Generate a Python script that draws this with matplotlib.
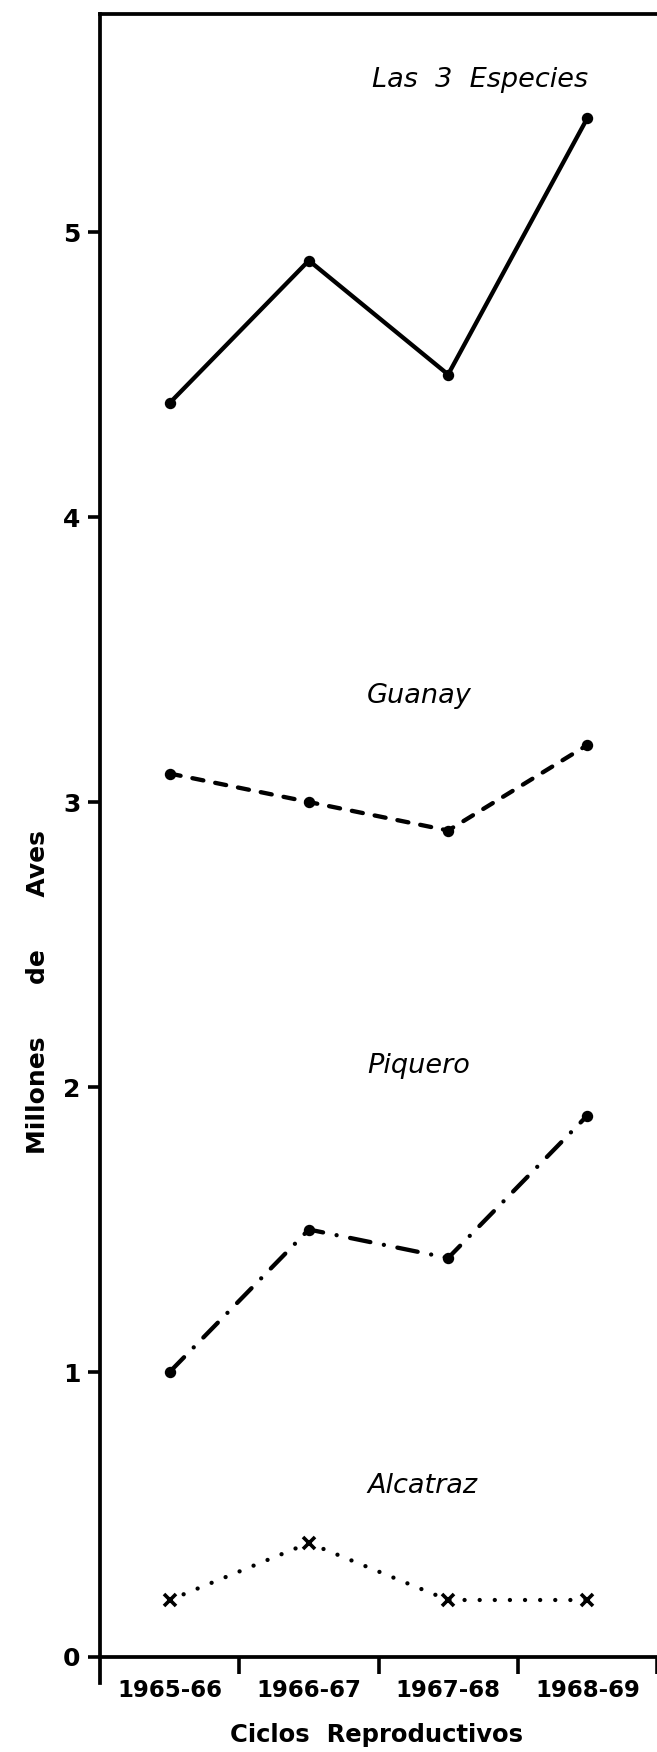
import matplotlib
matplotlib.use("Agg")
import matplotlib.pyplot as plt

# ---- data ----
ciclos = ["1965-66", "1966-67", "1967-68", "1968-69"]
las3_especies = [4.4, 4.9, 4.5, 5.4]
guanay = [3.1, 3.0, 2.9, 3.2]
piquero = [1.0, 1.5, 1.4, 1.9]
alcatraz = [0.2, 0.4, 0.2, 0.2]
y_ticks = [0, 1, 2, 3, 4, 5]
series_names = ["Las  3  Especies", "Guanay", "Piquero", "Alcatraz"]

plt.rcParams['font.family'] = ['DejaVu Sans']

fig = plt.figure(figsize=(6.57, 17.52), dpi=100)
ax = fig.add_axes([100 / 657, 95 / 1752, 557 / 657, 1643 / 1752])

x = list(range(len(ciclos)))
lw = 3.1
ms = 7.2

ax.plot(x, las3_especies, color='black', lw=lw, marker='o', ms=ms,
        solid_capstyle='round', solid_joinstyle='round')
ax.plot(x, guanay, color='black', lw=lw, marker='o', ms=ms,
        linestyle=(0, (2.6, 2.8)), dash_capstyle='round')
ax.plot(x, piquero, color='black', lw=lw, marker='o', ms=ms,
        linestyle=(0, (4.8, 3.2, 0.01, 3.2)), dash_capstyle='round')
ax.plot(x, alcatraz, color='black', lw=lw, linestyle=(0, (0.01, 3.5)),
        dash_capstyle='round')
ax.plot(x, alcatraz, color='black', lw=0, marker='x', ms=9, mew=2.6)

# series labels
label_kw = dict(fontsize=19.5, style='italic', color='black', va='baseline', ha='left')
ax.text(1.454, 5.51, series_names[0], **label_kw)
ax.text(1.418, 3.347, series_names[1], **label_kw)
ax.text(1.418, 2.049, series_names[2], **label_kw)
ax.text(1.418, 0.575, series_names[3], **label_kw)

ax.set_xlim(-0.5, 3.49)
ax.set_ylim(0, 5.765)

# spines
for s in ['left', 'bottom', 'top']:
    ax.spines[s].set_linewidth(2.7)
ax.spines['right'].set_visible(False)
ax.spines['left'].set_bounds(-0.09, 5.765)

# y axis
ax.set_yticks(y_ticks)
ax.set_yticklabels([str(v) for v in y_ticks], fontsize=18, fontweight='bold')
ax.tick_params(axis='y', direction='out', length=8.6, width=2.6, pad=5.5)

# x axis: labels at category centres, tick marks at boundaries
ax.set_xticks(x)
ax.set_xticklabels(ciclos, fontsize=16.5, fontweight='bold')
ax.set_xticks([i + 0.5 for i in x], minor=True)
ax.tick_params(axis='x', which='major', length=0, pad=16)
ax.tick_params(axis='x', which='minor', direction='out', length=12.2, width=2.6)

ax.set_xlabel("Ciclos  Reproductivos", fontsize=17.5, fontweight='bold')
ax.xaxis.set_label_coords(0.497, -0.040)
ax.set_ylabel("Millones      de      Aves", fontsize=18, fontweight='bold')
ax.yaxis.set_label_coords(-0.09, 0.405)

fig.savefig("out.png", dpi=100)
